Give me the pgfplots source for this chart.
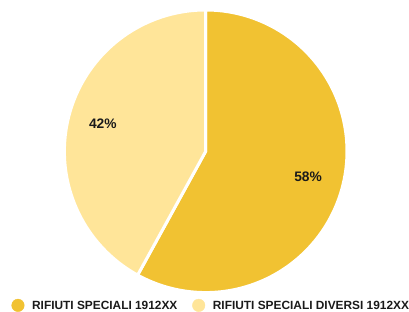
\documentclass[border=0pt]{standalone}
\usepackage{pgfplots}
\pgfplotsset{compat=1.18}
\usepackage{fontspec}
\setmainfont{Liberation Sans}
\definecolor{darkY}{HTML}{F1C232}
\definecolor{lightY}{HTML}{FFE599}
\definecolor{txt}{HTML}{1A1A1A}
\def\va{58}
\def\vb{42}
\begin{document}
\begin{tikzpicture}
\begin{axis}[
  width=409pt, height=312pt, scale only axis,
  xmin=0, xmax=409, ymin=0, ymax=312, y dir=reverse,
  hide axis, clip=false,
]
\path (axis cs:0,0) rectangle (axis cs:409,312);
\pgfmathsetmacro\tA{90}
\pgfmathsetmacro\tB{90-3.6*\va}
\pgfmathsetmacro\tC{\tB-3.6*\vb}
\addplot[draw=white, line width=3pt, fill=darkY, domain=\tA:\tB, samples=120, line join=round]
  ({206+141.5*cos(x)}, {151.5-141.5*sin(x)}) -- (axis cs:206,151.5) -- cycle;
\addplot[draw=white, line width=3pt, fill=lightY, domain=\tB:\tC, samples=120, line join=round]
  ({206+141.5*cos(x)}, {151.5-141.5*sin(x)}) -- (axis cs:206,151.5) -- cycle;
\node[font=\bfseries\fontsize{13.8}{15}\selectfont, text=txt] at (axis cs:308.5,176.7) {58\%};
\node[font=\bfseries\fontsize{13.8}{15}\selectfont, text=txt] at (axis cs:103,123.8) {42\%};
\addplot[only marks, mark=*, mark size=6.3pt, mark options={draw=none}, darkY] coordinates {(18,305.8)};
\addplot[only marks, mark=*, mark size=6.3pt, mark options={draw=none}, lightY] coordinates {(199,305.8)};
\node[anchor=west, inner sep=0pt, font=\bfseries\fontsize{11.9}{13}\selectfont, text=txt] at (axis cs:32,305.5) {RIFIUTI SPECIALI 1912XX};
\node[anchor=west, inner sep=0pt, font=\bfseries\fontsize{11.9}{13}\selectfont, text=txt] at (axis cs:213,305.5) {RIFIUTI SPECIALI DIVERSI 1912XX};
\end{axis}
\end{tikzpicture}
\end{document}
